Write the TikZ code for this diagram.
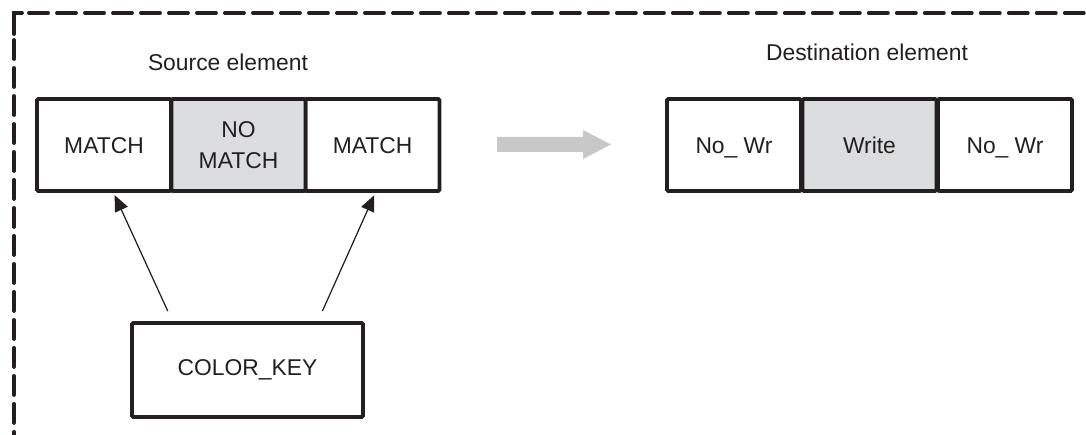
\documentclass[tikz,border=0pt]{standalone}
\usepackage{fontspec}
\setmainfont{Liberation Sans}
\usetikzlibrary{calc}
\usetikzlibrary{arrows.meta}

\definecolor{ink}{HTML}{231F20}
\definecolor{cellgray}{HTML}{DCDDDE}
\definecolor{arrowgray}{HTML}{C8C8C8}

\tikzset{
  cell/.style={draw=ink, line width=2.2pt, rounded corners=0.8pt, fill=white,
    minimum width=2.68cm, minimum height=1.84cm, inner sep=0pt,
    align=center, text=ink, font=\fontsize{13}{18}\selectfont},
  graycell/.style={cell, fill=cellgray},
  oneline/.style={text height=9.3pt, text depth=0pt},
  title/.style={anchor=base, text=ink, font=\fontsize{13}{16}\selectfont},
  frame/.style={ink, line width=2.2pt, line cap=round},
  keyarrow/.style={draw=ink, line width=0.7pt,
    -{Triangle[length=0.32cm,width=0.28cm]},
    shorten <=0.22cm, shorten >=0.05cm}
}

\begin{document}
\begin{tikzpicture}[x=0.02cm,y=-0.02cm]

\useasboundingbox (0,0) rectangle (1086,435);

% Dashed frame
\draw[frame] (14,34) -- (14,13) -- (22,13);
\draw[frame, dash pattern=on 0.38cm off 0.18cm] (14,40) -- (14,445);
\draw[frame, dash pattern=on 0.38cm off 0.18cm] (29,13) -- (1096,13);

% Labels
\node[title] (src) at (228,71) {Source element};
\node[title] (dst) at (867,61) {Destination element};

% Source element
\node[cell, oneline] (m1) at (104,145) {MATCH};
\node[cell, oneline] (m3) at (372.5,145) {MATCH};
\node[graycell] (m2) at (238.5,145) {NO\\MATCH};

% Destination element
\node[cell, oneline] (w1) at (734,145) {No\_ Wr};
\node[cell, oneline] (w3) at (1005,145) {No\_ Wr};
\node[graycell, oneline] (w2) at (869.5,145) {Write};

% Gray arrow
\fill[arrowgray] (497,137) -- (583,137) -- (583,130) -- (611,144.5)
  -- (583,159) -- (583,152) -- (497,152) -- cycle;

% Key
\node[cell, oneline, text depth=3pt, minimum width=4.62cm, minimum height=1.88cm] (key) at (247.5,370) {COLOR\_KEY};

\draw[keyarrow] ($(key.north west)!0.18!(key.north east)$) -- ($(m1.south west)!0.57!(m1.south east)$);
\draw[keyarrow] ($(key.north west)!0.80!(key.north east)$) -- ($(m3.south west)!0.52!(m3.south east)$);

\end{tikzpicture}
\end{document}
